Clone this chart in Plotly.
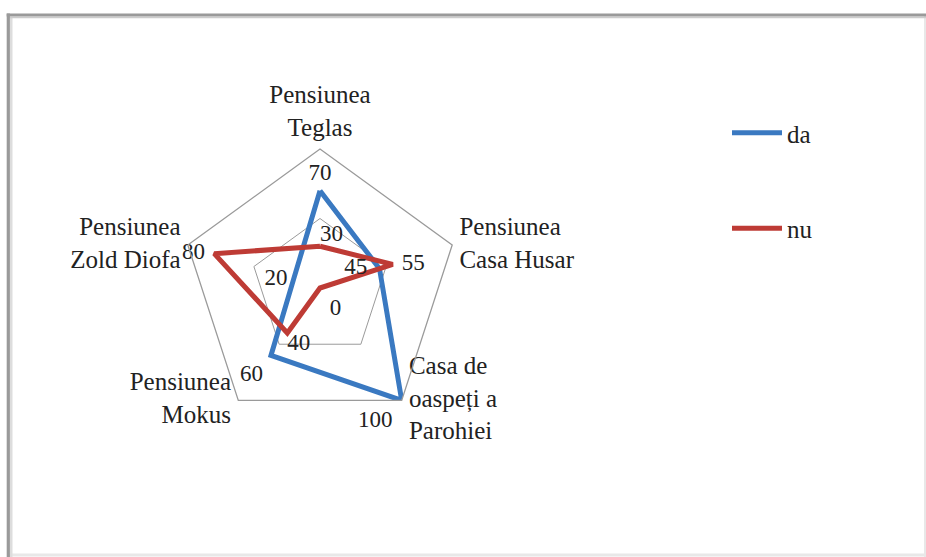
import plotly.graph_objects as go

categories = ["Pensiunea Teglas", "Pensiunea Casa Husar", "Casa de oaspeți a Parohiei",
              "Pensiunea Mokus", "Pensiunea Zold Diofa"]
tick_labels = ["Pensiunea<br>Teglas", "Pensiunea<br>Casa Husar", "Casa de<br>oaspeți a<br>Parohiei",
               "Pensiunea<br>Mokus", "Pensiunea<br>Zold Diofa"]
da = [70, 45, 100, 60, 20]
nu = [30, 55, 0, 40, 80]
r_min, r_max = 0, 100

W, H = 926, 557
FONT = "Liberation Serif"
BLUE = "#3A79C1"
RED = "#BE3B35"
TXT = "#222222"

# label placement styles (not data)
da_pos = ["top center", "middle left", "bottom left", "bottom left", "middle left"]
da_gap = [6, 18, 13, 11, 8]
nu_pos = ["top right", "middle right", "bottom right", "bottom right", "middle left"]
nu_gap = [0, 13, 14, 0, 13]
POLE_EPS = 0.01  # plotly hides text sitting exactly on the pole; nudge it imperceptibly

fig = go.Figure()
for name, vals, col in [("da", da, BLUE), ("nu", nu, RED)]:
    fig.add_trace(go.Scatterpolar(
        r=vals + vals[:1], theta=categories + categories[:1], mode="lines", name=name,
        line=dict(color=col, width=5), legendgroup=name))

for vals, pos, gap in [(da, da_pos, da_gap), (nu, nu_pos, nu_gap)]:
    fig.add_trace(go.Scatterpolar(
        r=[v + POLE_EPS if v == r_min else v for v in vals], theta=categories,
        mode="text+markers", text=[str(v) for v in vals],
        marker=dict(size=gap, opacity=0),
        textposition=pos, textfont=dict(family=FONT, size=23, color=TXT),
        showlegend=False, hoverinfo="skip", cliponaxis=False))

# category labels at the outer ring
cat_pos = ["top center", "middle right", "middle right", "middle left", "middle left"]
fig.add_trace(go.Scatterpolar(
    r=[r_max] * len(categories), theta=categories, mode="text+markers", text=tick_labels,
    marker=dict(size=10, opacity=0),
    textposition=cat_pos, textfont=dict(family=FONT, size=25, color=TXT),
    showlegend=False, hoverinfo="skip", cliponaxis=False))

cx, cy, R = 320, 288, 139
fig.update_layout(
    width=W, height=H, margin=dict(l=0, r=0, t=0, b=0),
    paper_bgcolor="white", plot_bgcolor="white",
    font=dict(family=FONT, size=25, color=TXT),
    polar=dict(
        domain=dict(x=[(cx - R) / W, (cx + R) / W], y=[(H - cy - R) / H, (H - cy + R) / H]),
        bgcolor="rgba(0,0,0,0)",
        gridshape="linear",
        radialaxis=dict(range=[r_min, r_max], tickvals=[r_max / 2, r_max], showticklabels=False,
                        ticks="", showline=False, gridcolor="#9a9a9a", gridwidth=1.3),
        angularaxis=dict(rotation=90, direction="clockwise", categoryarray=categories,
                         showticklabels=False, showgrid=False, ticks="",
                         linecolor="#9a9a9a", linewidth=1.3),
    ),
    legend=dict(x=727 / W, y=1 - 110 / H, xanchor="left", yanchor="top",
                font=dict(family=FONT, size=25, color=TXT),
                tracegroupgap=60, itemwidth=50, bgcolor="rgba(0,0,0,0)"),
    shapes=[
        # faint right and bottom edges
        dict(type="line", xref="paper", yref="paper", x0=925 / W, x1=925 / W, y0=0, y1=1 - 15 / H,
             line=dict(color="#e8e8e8", width=2)),
        dict(type="line", xref="paper", yref="paper", x0=8 / W, x1=1, y0=2 / H, y1=2 / H,
             line=dict(color="#e8e8e8", width=3)),
        # inner soft shadow
        dict(type="line", xref="paper", yref="paper", x0=11 / W, x1=11 / W, y0=0, y1=1 - 17 / H,
             line=dict(color="#dddddd", width=3)),
        dict(type="line", xref="paper", yref="paper", x0=8 / W, x1=1, y0=1 - 17.5 / H, y1=1 - 17.5 / H,
             line=dict(color="#cccccc", width=1.5)),
        # dark top and left edges
        dict(type="line", xref="paper", yref="paper", x0=8.3 / W, x1=8.3 / W, y0=0, y1=1 - 13.5 / H,
             line=dict(color="#9a9a9a", width=3.2)),
        dict(type="line", xref="paper", yref="paper", x0=6.7 / W, x1=1, y0=1 - 15 / H, y1=1 - 15 / H,
             line=dict(color="#9a9a9a", width=3)),
    ],
)

fig.write_html("out.html", config={"displayModeBar": False},
               post_script="document.body.style.margin='0';")
